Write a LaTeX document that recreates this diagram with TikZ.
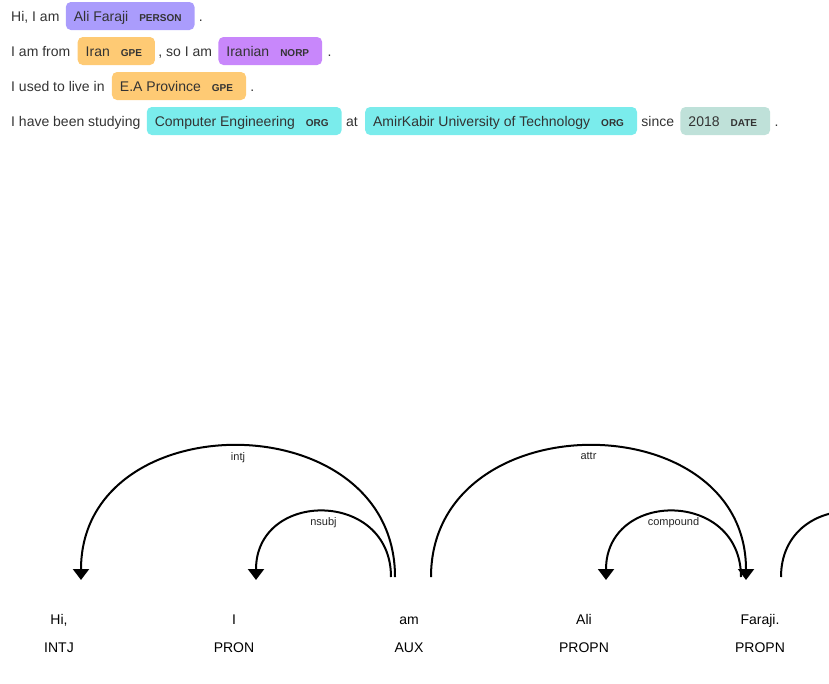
\documentclass[tikz,border=0pt]{standalone}
\usepackage{fontspec}
\setmainfont{Liberation Sans}
\usepackage{tikz}
\usetikzlibrary{positioning}
\usetikzlibrary{arrows.meta}

\definecolor{person}{HTML}{AA9CFC}
\definecolor{gpe}{HTML}{FECA74}
\definecolor{norp}{HTML}{C887FB}
\definecolor{org}{HTML}{7AECEC}
\definecolor{date}{HTML}{BFE1D9}
\definecolor{txt}{HTML}{333333}

\newcommand{\enttag}[1]{\kern11pt{\fontsize{10}{10}\selectfont\bfseries #1}\kern5pt}

\tikzstyle{word} = [inner sep=0pt, text height=11pt, text depth=0pt, text=txt,
                font=\fontsize{14}{16}\selectfont]
\tikzstyle{ent} = [word, rounded corners=5pt, inner xsep=8pt, inner ysep=8.5pt]
\tikzstyle{tok} = [inner sep=0pt, text height=11pt, text depth=0pt,
                font=\fontsize{14}{16}\selectfont]
\tikzstyle{arc} = [draw, line width=2pt, -{Triangle[width=16pt,length=11pt]}]
\tikzstyle{arclabel} = [anchor=north, inner sep=0pt, yshift=-5pt,
                font=\fontsize{11}{12}\selectfont, text=black!85]

\begin{document}
\begin{tikzpicture}[x=1pt, y=-1pt]
            \useasboundingbox (0,0) rectangle (829,683);
            % named entities
            \node[word, anchor=west] (hi) at (11,16) {Hi, I am};
            \node[ent, fill=person, right=6pt of hi] (name) {Ali Faraji\enttag{PERSON}};
            \node[word, right=4pt of name] (dota) {.};
            \node[word, anchor=west] (from) at (11,51) {I am from};
            \node[ent, fill=gpe, right=7pt of from] (iran) {Iran\enttag{GPE}};
            \node[word, right=3pt of iran] (so) {, so I am};
            \node[ent, fill=norp, right=6pt of so] (iranian) {Iranian\enttag{NORP}};
            \node[word, right=5pt of iranian] (dotb) {.};
            \node[word, anchor=west] (live) at (11,86) {I used to live in};
            \node[ent, fill=gpe, right=7pt of live] (province) {E.A Province\enttag{GPE}};
            \node[word, right=4pt of province] (dotc) {.};
            \node[word, anchor=west] (study) at (11,121) {I have been studying};
            \node[ent, fill=org, right=6pt of study] (field) {Computer Engineering\enttag{ORG}};
            \node[word, right=4pt of field] (at) {at};
            \node[ent, fill=org, right=7pt of at] (univ) {AmirKabir University of Technology\enttag{ORG}};
            \node[word, right=4pt of univ] (since) {since};
            \node[ent, fill=date, right=6pt of since] (year) {2018\enttag{DATE}};
            \node[word, right=4pt of year] (dotd) {.};
            % dependency tokens
            \node[tok] (hiw) at (59,619) {Hi,};
            \node[tok] (iw) at (234,619) {I};
            \node[tok] (amw) at (409,619) {am};
            \node[tok] (aliw) at (584,619) {Ali};
            \node[tok] (farajiw) at (760,619) {Faraji.};
            \node[tok, below=17pt of hiw] (hit) {INTJ};
            \node[tok, below=17pt of iw] (it) {PRON};
            \node[tok, below=17pt of amw] (amt) {AUX};
            \node[tok, below=17pt of aliw] (alit) {PROPN};
            \node[tok, below=17pt of farajiw] (farajit) {PROPN};
            % arc ends
            \coordinate (hi-in) at (81,580);
            \coordinate (i-in) at (256,580);
            \coordinate (am-out) at (395,577);
            \coordinate (am-out2) at (391,577);
            \coordinate (am-out3) at (431,577);
            \coordinate (ali-in) at (606,580);
            \coordinate (faraji-in) at (746,580);
            \coordinate (faraji-out) at (741,577);
            \coordinate (faraji-out2) at (781,577);
            \coordinate (next) at (916,577);
            % arcs
            \path[arc] (am-out) .. controls (395,402) and (81,402) .. (hi-in)
                node[arclabel, pos=0.5] (intj) {intj};
            \path[arc] (am-out2) .. controls (391,489.5) and (256,489.5) .. (i-in)
                node[arclabel, pos=0.5] (nsubj) {nsubj};
            \path[arc] (am-out3) .. controls (431,402) and (746,402) .. (faraji-in)
                node[arclabel, pos=0.5] (attr) {attr};
            \path[arc] (faraji-out) .. controls (741,489.5) and (606,489.5) .. (ali-in)
                node[arclabel, pos=0.5] (compound) {compound};
            \draw[line width=2pt] (faraji-out2) .. controls (781,489.5) and (916,489.5) .. (next);
\end{tikzpicture}
\end{document}
